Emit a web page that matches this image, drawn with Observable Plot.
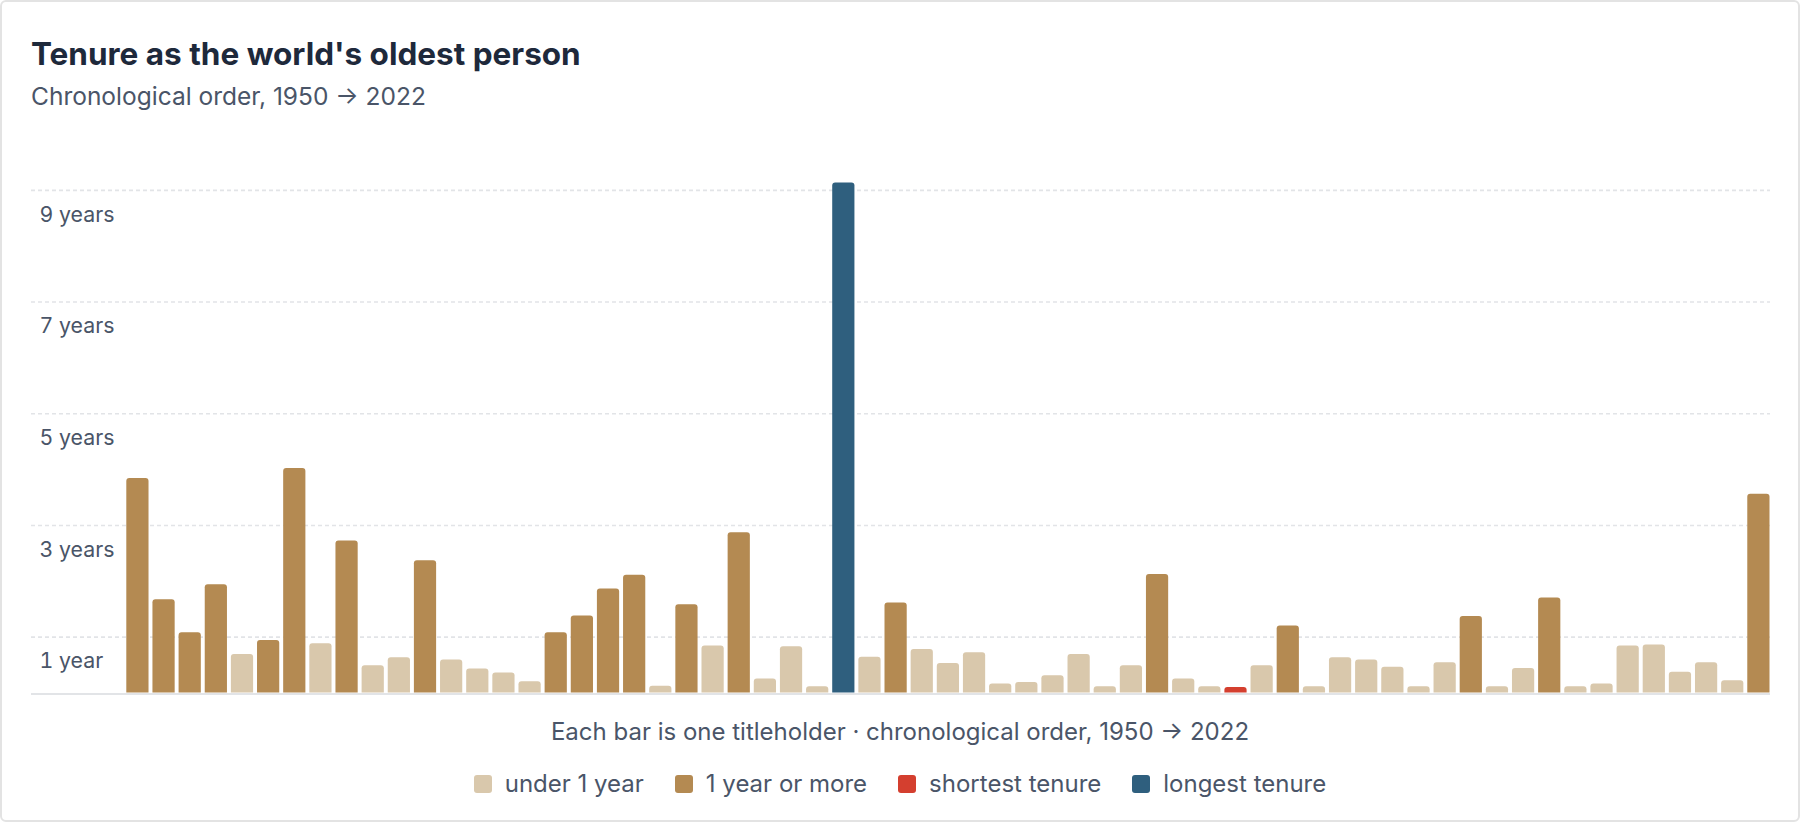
<!DOCTYPE html>
<html>
<head>
<meta charset="utf-8">
<script src="https://cdn.jsdelivr.net/npm/d3@7"></script>
<script src="https://cdn.jsdelivr.net/npm/@observablehq/plot@0.6"></script>
<style>
  html, body { margin: 0; padding: 0; background: #ffffff; }
  body { width: 1800px; height: 824px; overflow: hidden; font-family: Inter, "Noto Sans", sans-serif; }
  #card {
    box-sizing: border-box; width: 1800px; height: 822px;
    border: 2px solid #e3e3e3; border-radius: 6px; background: #fff;
    padding-top: 33px; position: relative;
  }
  #title { margin: 0 0 0 29px; font-size: 31.5px; line-height: 38px; font-weight: 700; color: #1e293b; }
  #subtitle { margin: 8.6px 0 0 29px; font-size: 24.5px; line-height: 28px; color: #4a5568; }
  #chart { margin-top: 0; height: 591px; }
  #chart svg { display: block; }
  #caption { margin-top: 17.6px; text-align: center; font-size: 24px; line-height: 28px; color: #4a5568; }
  #legend { margin-top: 24px; display: flex; justify-content: center; gap: 31px; font-size: 24px; line-height: 28px; color: #4a5568; }
  .item { display: flex; align-items: center; }
  .sw { width: 18px; height: 18px; border-radius: 3px; margin-right: 13px; }
</style>
</head>
<body>
<div id="card">
  <div id="title">Tenure as the world's oldest person</div>
  <div id="subtitle">Chronological order, 1950 → 2022</div>
  <div id="chart"></div>
  <div id="caption">Each bar is one titleholder · chronological order, 1950 → 2022</div>
  <div id="legend"></div>
</div>
<script>
// Tenure of each titleholder, in years, in chronological order (1950 → 2022)
const tenureYears = [
  3.84, 1.67, 1.08, 1.94, 0.69, 0.94, 4.02, 0.88, 2.72, 0.49,
  0.63, 2.37, 0.59, 0.43, 0.36, 0.20, 1.08, 1.38, 1.86, 2.11,
  0.12, 1.58, 0.84, 2.87, 0.25, 0.83, 0.11, 9.13, 0.64, 1.61,
  0.78, 0.53, 0.72, 0.16, 0.19, 0.31, 0.69, 0.11, 0.49, 2.12,
  0.25, 0.11, 0.10, 0.49, 1.20, 0.11, 0.63, 0.59, 0.46, 0.11,
  0.54, 1.37, 0.11, 0.44, 1.70, 0.11, 0.16, 0.84, 0.86, 0.37,
  0.54, 0.22, 3.56
];
// Class of each bar as drawn: L = under 1 year, D = 1 year or more, S = shortest, X = longest
const tenureClass = "DDDDLDDLDL" + "LDLLLLDDDD" + "LDLDLLLXLD" + "LLLLLLLLLD" + "LLSLDLLLLL" + "LDLLDLLLLL" + "LLD";
const classCodes = ["L", "D", "S", "X"];
const classNames = ["under 1 year", "1 year or more", "shortest tenure", "longest tenure"];
const classColors = ["#d9c8ac", "#b48a52", "#d43f2f", "#2f5f7e"];
const yTicks = [1, 3, 5, 7, 9];

const rows = tenureYears.map((v, i) => ({
  order: i,
  years: v,
  kind: classNames[classCodes.indexOf(tenureClass[i])]
}));

const chart = Plot.plot({
  width: 1796,
  height: 591,
  marginLeft: 29,
  marginRight: 28,
  marginTop: 24,
  marginBottom: 8.5,
  style: { fontFamily: "Inter, sans-serif", fontSize: "21px", color: "#4a5568", background: "transparent", overflow: "visible" },
  x: { type: "band", domain: d3.range(tenureYears.length), range: [124.3, 1767.5], paddingInner: 0.15, paddingOuter: 0, round: false, axis: null },
  y: { domain: [0, 10], axis: null, label: null },
  color: { domain: classNames, range: classColors },
  marks: [
    Plot.ruleY(yTicks, { stroke: "#e2e4e7", strokeWidth: 1.6, strokeDasharray: "4,3" }),
    Plot.axisY(yTicks, {
      anchor: "left", label: null, tickSize: 0, tickPadding: 0, textAnchor: "start",
      dx: 8, dy: 24.5, fontSize: 21.3, fill: "#4a5568",
      tickFormat: d => d === 1 ? "1 year" : `${d} years`
    }),
    Plot.barY(rows, { x: "order", y1: () => -0.15, y2: "years", fill: "kind", rx: 3, clip: true }),
    Plot.ruleY([0], { stroke: "#e2e4e7", strokeWidth: 2, dy: 1 })
  ]
});
document.getElementById("chart").appendChild(chart);

const legend = document.getElementById("legend");
classNames.forEach((name, i) => {
  const item = document.createElement("div");
  item.className = "item";
  const sw = document.createElement("span");
  sw.className = "sw";
  sw.style.background = classColors[i];
  const label = document.createElement("span");
  label.textContent = name;
  item.appendChild(sw);
  item.appendChild(label);
  legend.appendChild(item);
});
</script>
</body>
</html>
